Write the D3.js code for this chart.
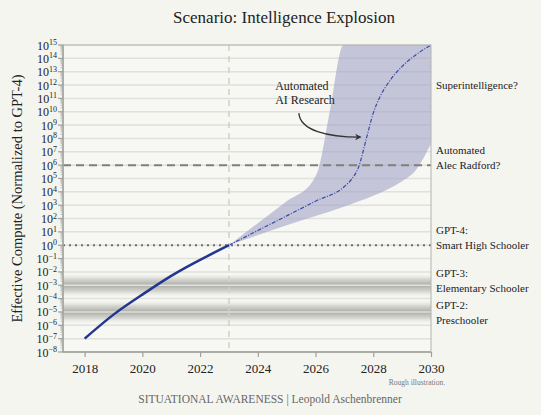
<!DOCTYPE html>
<html>
<head>
<meta charset="utf-8">
<script src="https://cdn.jsdelivr.net/npm/d3@7"></script>
<style>
  body { margin: 0; background: #f5f5f0; }
  text { font-family: "Liberation Serif", "DejaVu Serif", serif; }
</style>
</head>
<body>
<div id="chart_area"></div>
<script>
// data: years and log10 of effective compute (normalized to GPT-4)
var histYears  = [2018, 2019, 2020, 2021, 2022, 2023];
var histLog    = [-7, -5.2, -3.7, -2.3, -1.1, 0];

var projYears  = [2023, 2024, 2025, 2026, 2027, 2027.25, 2027.5, 2027.75, 2028, 2028.25, 2028.5, 2029, 2029.5, 2030];
var projLog    = [0, 1.1, 2.2, 3.3, 4.4, 4.95, 5.9, 7.9, 9.9, 11.2, 12.1, 13.4, 14.3, 15];

var upperYears = [2023, 2024, 2025, 2025.9, 2026.1, 2026.5, 2026.97, 2030];
var upperLog   = [0, 1.65, 3.3, 4.8, 5.7, 10.1, 15, 15];
var lowerYears = [2023, 2025, 2027, 2028, 2028.5, 2029, 2029.5, 2030];
var lowerLog   = [0, 1.5, 2.9, 3.7, 4.2, 4.8, 5.7, 7.6];

var xTicks = [2018, 2020, 2022, 2024, 2026, 2028, 2030];
var yExps  = d3.range(-8, 16);

var levelBands = [-3, -5];          // GPT-3, GPT-2 levels (log10)
var radfordLevel = 6, gpt4Level = 0, todayYear = 2023;

var rightLabels = [
  { v: 11.7, lines: ["Superintelligence?"] },
  { v: 6.8,  lines: ["Automated", "Alec Radford?"] },
  { v: 0.85, lines: ["GPT-4:", "Smart High Schooler"] },
  { v: -2.4, lines: ["GPT-3:", "Elementary Schooler"] },
  { v: -4.8, lines: ["GPT-2:", "Preschooler"] }
];

//frame and margins
var sFrameWidth = 541, sFrameHeight = 415;
var sMargin = { top: 45, right: 110, bottom: 63, left: 63 };
var w = sFrameWidth - sMargin.left - sMargin.right;
var h = sFrameHeight - sMargin.top - sMargin.bottom;

var sFrame = d3.select("#chart_area").append("svg")
  .attr("width", sFrameWidth).attr("height", sFrameHeight)
  .style("background", "#f5f5f0");
var defs = sFrame.append("defs");
var sCanvas = sFrame.append("g")
  .attr("transform", "translate(" + sMargin.left + "," + sMargin.top + ")");

var x = d3.scaleLinear().domain([2017.25, 2030]).range([0, w]);
var y = d3.scaleLog().domain([1e-8, 1e15]).range([h, 0]);
var yl = function(v) { return y(Math.pow(10, v)); };

//clip
defs.append("clipPath").attr("id", "plot").append("rect").attr("width", w).attr("height", h);

//plot background
sCanvas.append("rect").attr("width", w).attr("height", h).attr("fill", "#f7f7f3");

//grey level bands
var grad = defs.append("linearGradient").attr("id", "band")
  .attr("x1", 0).attr("x2", 0).attr("y1", 0).attr("y2", 1);
grad.append("stop").attr("offset", "0%").attr("stop-color", "#f7f7f3").attr("stop-opacity", 0);
grad.append("stop").attr("offset", "25%").attr("stop-color", "#d8d8d3");
grad.append("stop").attr("offset", "50%").attr("stop-color", "#acaca8");
grad.append("stop").attr("offset", "75%").attr("stop-color", "#d8d8d3");
grad.append("stop").attr("offset", "100%").attr("stop-color", "#f7f7f3").attr("stop-opacity", 0);

sCanvas.selectAll(".lvl").data(levelBands).enter().append("rect")
  .attr("x", 0).attr("width", w)
  .attr("y", function(d) { return yl(d + 0.95); })
  .attr("height", function(d) { return yl(d - 0.95) - yl(d + 0.95); })
  .attr("fill", "url(#band)");

//grid
sCanvas.selectAll(".grid").data(yExps).enter().append("line")
  .attr("x1", 0).attr("x2", w)
  .attr("y1", function(d) { return yl(d); }).attr("y2", function(d) { return yl(d); })
  .attr("stroke", "#e1e1db").attr("stroke-width", 1.5);

//uncertainty band
var bandPts = upperYears.map(function(d, i) { return [d, upperLog[i]]; });
var lowPts = lowerYears.map(function(d, i) { return [d, lowerLog[i]]; });
var upperLine = d3.line().x(function(d) { return x(d[0]); }).y(function(d) { return yl(d[1]); })
  .curve(d3.curveMonotoneX);
var area = sCanvas.append("g").attr("clip-path", "url(#plot)");
area.append("path")
  .attr("d", upperLine(bandPts) + "L" + upperLine(lowPts.slice().reverse()).slice(1) + "Z")
  .attr("fill", "#9597c2").attr("fill-opacity", 0.52);

// vertical dashed line at today
sCanvas.append("line")
  .attr("x1", x(todayYear)).attr("x2", x(todayYear)).attr("y1", 0).attr("y2", h)
  .attr("stroke", "#d0d0cb").attr("stroke-width", 1.5).attr("stroke-dasharray", "6,5");

// Radford dashed line
sCanvas.append("line")
  .attr("x1", 0).attr("x2", w).attr("y1", yl(radfordLevel)).attr("y2", yl(radfordLevel))
  .attr("stroke", "#7f7f7c").attr("stroke-width", 2).attr("stroke-dasharray", "8,5");

// GPT-4 dotted line
sCanvas.append("line")
  .attr("x1", 0).attr("x2", w).attr("y1", yl(gpt4Level)).attr("y2", yl(gpt4Level))
  .attr("stroke", "#6e6e6b").attr("stroke-width", 2).attr("stroke-dasharray", "2,4");

//lines
var curve = d3.line().x(function(d) { return x(d[0]); }).y(function(d) { return yl(d[1]); })
  .curve(d3.curveMonotoneX);
area.append("path")
  .attr("d", curve(projYears.map(function(d, i) { return [d, projLog[i]]; })))
  .attr("fill", "none").attr("stroke", "#3a4aa8").attr("stroke-width", 1.2)
  .attr("stroke-dasharray", "4,1.5,1,1.5");
sCanvas.append("path")
  .attr("d", curve.curve(d3.curveNatural)(histYears.map(function(d, i) { return [d, histLog[i]]; })))
  .attr("fill", "none").attr("stroke", "#22368f").attr("stroke-width", 2.5);

//frame
sCanvas.append("rect").attr("width", w).attr("height", h)
  .attr("fill", "none").attr("stroke", "#b3b3ae").attr("stroke-width", 1);
sCanvas.append("line").attr("x1", 0).attr("x2", 0).attr("y1", 0).attr("y2", h)
  .attr("stroke", "#a0a09c").attr("stroke-width", 1.5);
sCanvas.append("line").attr("x1", 0).attr("x2", w).attr("y1", h).attr("y2", h)
  .attr("stroke", "#a0a09c").attr("stroke-width", 1.5);

//x axis
var xAxis = sCanvas.append("g").attr("transform", "translate(0," + h + ")")
  .call(d3.axisBottom(x).tickValues(xTicks).tickFormat(d3.format("d")).tickSize(5).tickPadding(7));
xAxis.select(".domain").remove();
xAxis.selectAll("line").attr("stroke", "#a0a09c").attr("stroke-width", 1.2);
xAxis.selectAll("text").attr("font-size", 13).attr("fill", "#222")
  .attr("font-family", "Liberation Serif, serif");

//y axis ticks
var minor = [];
yExps.slice(0, -1).forEach(function(e) { for (var k = 2; k < 10; k++) minor.push(k * Math.pow(10, e)); });
sCanvas.selectAll(".mt").data(minor).enter().append("line")
  .attr("x1", -2.5).attr("x2", 0)
  .attr("y1", function(d) { return y(d); }).attr("y2", function(d) { return y(d); })
  .attr("stroke", "#b3b3ae").attr("stroke-width", 0.8);
sCanvas.selectAll(".Mt").data(yExps).enter().append("line")
  .attr("x1", -5).attr("x2", 0)
  .attr("y1", function(d) { return yl(d); }).attr("y2", function(d) { return yl(d); })
  .attr("stroke", "#a0a09c").attr("stroke-width", 1.2);
var yLab = sCanvas.selectAll(".yl").data(yExps).enter().append("text")
  .attr("x", -6).attr("y", function(d) { return yl(d) + 4.5; })
  .attr("text-anchor", "end").attr("font-size", 12).attr("fill", "#222");
yLab.append("tspan").text("10");
yLab.append("tspan").attr("dy", -4.5).attr("font-size", 8)
  .text(function(d) { return d < 0 ? "\u2212" + (-d) : d; });

//axis title
sFrame.append("text")
  .attr("transform", "translate(22," + (sMargin.top + h / 2) + ") rotate(-90)")
  .attr("text-anchor", "middle").attr("font-size", 14.5).attr("fill", "#222")
  .text("Effective Compute (Normalized to GPT-4)");

//title
sFrame.append("text").attr("x", 284).attr("y", 23).attr("text-anchor", "middle")
  .attr("font-size", 17).attr("fill", "#222").text("Scenario: Intelligence Explosion");

//right labels
rightLabels.forEach(function(r) {
  var t = sCanvas.append("text").attr("x", w + 5).attr("y", yl(r.v))
    .attr("font-size", 11).attr("fill", "#222");
  r.lines.forEach(function(l, i) {
    t.append("tspan").attr("x", w + 5).attr("dy", i === 0 ? 0 : 15).text(l);
  });
});

//annotation
var note = sCanvas.append("text").attr("x", x(2024.6)).attr("y", yl(11.65))
  .attr("font-size", 12).attr("fill", "#222");
note.append("tspan").attr("x", x(2024.6)).text("Automated");
note.append("tspan").attr("x", x(2024.6)).attr("dy", 14).text("AI Research");

defs.append("marker").attr("id", "arrow").attr("viewBox", "0 0 10 10")
  .attr("refX", 8).attr("refY", 5).attr("markerWidth", 5).attr("markerHeight", 5)
  .attr("orient", "auto")
  .append("path").attr("d", "M0,0 L10,5 L0,10 L3,5 Z").attr("fill", "#333");
var arrowPts = [[2025.42, 9.9], [2025.47, 8.6], [2026.4, 8.1], [2027.55, 8.1]];
sCanvas.append("path")
  .attr("d", "M" + x(arrowPts[0][0]) + "," + yl(arrowPts[0][1]) +
    "C" + arrowPts.slice(1).map(function(p) { return x(p[0]) + "," + yl(p[1]); }).join(" "))
  .attr("fill", "none").attr("stroke", "#333").attr("stroke-width", 1.3)
  .attr("marker-end", "url(#arrow)");

//footer
sFrame.append("text").attr("x", 445).attr("y", 385).attr("text-anchor", "end")
  .attr("font-size", 7.5).attr("fill", "#777").text("Rough illustration.");
sFrame.append("text").attr("x", 270).attr("y", 403).attr("text-anchor", "middle")
  .attr("font-size", 11.5).attr("fill", "#666")
  .text("SITUATIONAL AWARENESS | Leopold Aschenbrenner");
</script>
</body>
</html>
